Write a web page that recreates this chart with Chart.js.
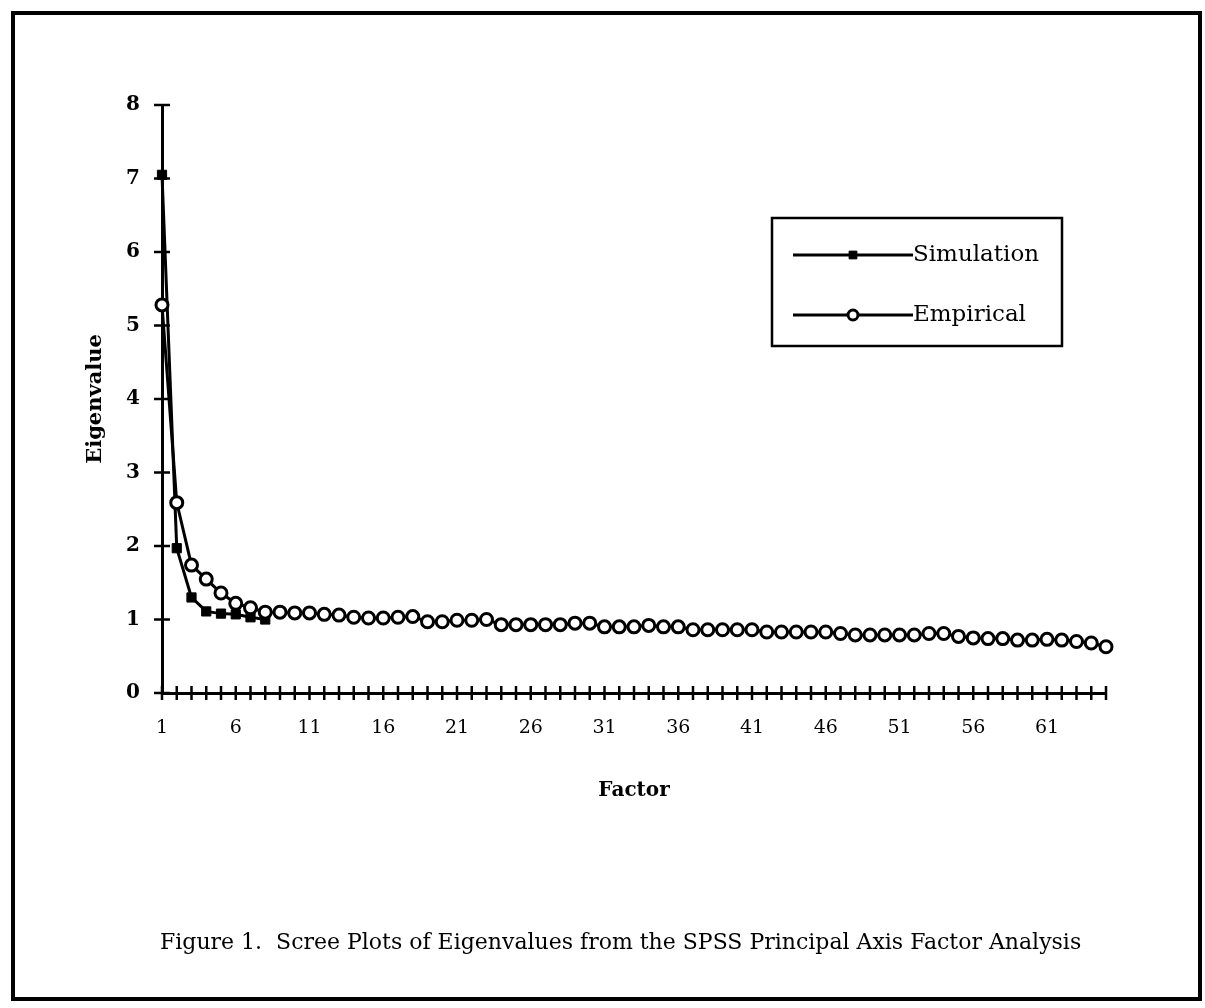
<!DOCTYPE html>
<html>
<head>
<meta charset="utf-8">
<script src="https://cdn.jsdelivr.net/npm/chart.js@4.4.0/dist/chart.umd.min.js"></script>
<style>
  body { margin: 0; background: #fff; }
  #wrap { position: relative; width: 1205px; height: 1008px; overflow: hidden; }
  #frame { position: absolute; left: 11px; top: 11px; width: 1191px; height: 990px;
           border: 4px solid #000; box-sizing: border-box; }
  #chart { position: absolute; left: 0; top: 0; }
  #caption { position: absolute; left: 160px; top: 929px; font-family: "DejaVu Serif", serif;
             font-size: 22px; color: #000; white-space: pre; }
</style>
</head>
<body>
<div id="wrap">
  <div id="frame"></div>
  <canvas id="chart" width="1205" height="1008"></canvas>
  <div id="caption">Figure 1.  Scree Plots of Eigenvalues from the SPSS Principal Axis Factor Analysis</div>
</div>
<script>
    var factors = ['1','2','3','4','5','6','7','8','9','10','11','12','13','14','15','16','17','18','19','20',
                   '21','22','23','24','25','26','27','28','29','30','31','32','33','34','35','36','37','38','39','40',
                   '41','42','43','44','45','46','47','48','49','50','51','52','53','54','55','56','57','58','59','60',
                   '61','62','63','64','65'];

    var simulation = [7.05, 1.97, 1.30, 1.11, 1.08, 1.07, 1.03, 1.00];

    var empirical = [5.28, 2.59, 1.74, 1.55, 1.36, 1.22, 1.16, 1.10, 1.10, 1.09,
                     1.09, 1.07, 1.06, 1.03, 1.02, 1.02, 1.03, 1.04, 0.97, 0.97,
                     0.99, 0.99, 1.00, 0.93, 0.93, 0.93, 0.93, 0.93, 0.95, 0.95,
                     0.90, 0.90, 0.90, 0.92, 0.90, 0.90, 0.86, 0.86, 0.86, 0.86,
                     0.86, 0.83, 0.83, 0.83, 0.83, 0.83, 0.81, 0.79, 0.79, 0.79,
                     0.79, 0.79, 0.81, 0.81, 0.77, 0.75, 0.74, 0.74, 0.72, 0.72,
                     0.73, 0.72, 0.70, 0.68, 0.63];

    var xTickEvery = 5;
    var yTicks = { min: 0, max: 8, step: 1 };

    var serif = '"DejaVu Serif", serif';

    // "+" shaped tick marks crossing both axes
    const crossTicks = {
        id: 'crossTicks',
        afterDraw(chart) {
            const ctx = chart.ctx;
            const x = chart.scales.x, y = chart.scales.y;
            ctx.save();
            ctx.strokeStyle = '#000';
            ctx.lineWidth = 2.5;
            ctx.beginPath();
            x.ticks.forEach(function (t, i) {
                const px = x.getPixelForTick(i);
                ctx.moveTo(px, y.bottom - 7);
                ctx.lineTo(px, y.bottom + 7);
            });
            y.ticks.forEach(function (t, i) {
                const py = y.getPixelForTick(i);
                ctx.moveTo(x.left - 8, py);
                ctx.lineTo(x.left + 8, py);
            });
            ctx.stroke();
            ctx.restore();
        }
    };

    // boxed legend like the original figure
    const boxLegend = {
        id: 'boxLegend',
        afterDraw(chart) {
            const ctx = chart.ctx;
            const box = { left: 772, top: 218, right: 1062, bottom: 346 };
            ctx.save();
            ctx.strokeStyle = '#000';
            ctx.lineWidth = 2.5;
            ctx.strokeRect(box.left, box.top, box.right - box.left, box.bottom - box.top);

            const rows = [37, 97];
            chart.data.datasets.forEach(function (ds, i) {
                const yy = box.top + rows[i];
                const x0 = box.left + 21, x1 = box.left + 141;
                ctx.strokeStyle = '#000';
                ctx.lineWidth = ds.borderWidth;
                ctx.beginPath();
                ctx.moveTo(x0, yy);
                ctx.lineTo(x1, yy);
                ctx.stroke();
                ctx.fillStyle = ds.pointBackgroundColor;
                ctx.lineWidth = ds.pointBorderWidth;
                Chart.helpers.drawPoint(ctx, {
                    pointStyle: ds.pointStyle,
                    radius: ds.pointRadius - 1,
                    borderWidth: ds.pointBorderWidth
                }, (x0 + x1) / 2, yy);
                ctx.fillStyle = '#000';
                ctx.font = '23px ' + serif;
                ctx.textBaseline = 'middle';
                ctx.fillText(ds.label, x1, yy);
            });
            ctx.restore();
        }
    };

    const chart = new Chart(document.getElementById('chart'), {
        type: 'line',
        data: {
            labels: factors,
            datasets: [
                {
                    label: 'Simulation',
                    data: simulation,
                    borderColor: '#000',
                    backgroundColor: '#000',
                    borderWidth: 3,
                    pointStyle: 'rect',
                    pointRadius: 6.5,
                    pointBorderWidth: 1,
                    pointBackgroundColor: '#000',
                    tension: 0,
                    clip: false,
                    order: 1
                },
                {
                    label: 'Empirical',
                    data: empirical,
                    borderColor: '#000',
                    backgroundColor: '#fff',
                    borderWidth: 3,
                    pointStyle: 'circle',
                    pointRadius: 6,
                    pointBorderWidth: 3,
                    pointBackgroundColor: '#fff',
                    tension: 0,
                    clip: false,
                    order: 0
                }
            ]
        },
        options: {
            responsive: false,
            animation: false,
            events: [],
            layout: { padding: { left: 83, right: 99, top: 105, bottom: 205 } },
            plugins: { legend: { display: false }, tooltip: { enabled: false } },
            scales: {
                x: {
                    type: 'category',
                    offset: false,
                    grid: { display: false, drawTicks: false },
                    border: { display: true, color: '#000', width: 3 },
                    ticks: {
                        autoSkip: false,
                        maxRotation: 0,
                        padding: 24,
                        color: '#000',
                        font: { family: serif, size: 19 },
                        callback: function (v, i) {
                            return i % xTickEvery === 0 ? this.getLabelForValue(v) : '';
                        }
                    },
                    title: {
                        display: true,
                        text: 'Factor',
                        color: '#000',
                        padding: 0,
                        font: { family: serif, size: 20, weight: 'bold' }
                    },
                    afterFit: function (s) { s.height = 110; }
                },
                y: {
                    min: yTicks.min,
                    max: yTicks.max,
                    grid: { display: false, drawTicks: false },
                    border: { display: true, color: '#000', width: 3 },
                    ticks: {
                        stepSize: yTicks.step,
                        padding: 22,
                        color: '#000',
                        font: { family: serif, size: 20, weight: 'bold' }
                    },
                    title: {
                        display: true,
                        text: 'Eigenvalue',
                        color: '#000',
                        padding: 0,
                        font: { family: serif, size: 21, weight: 'bold' }
                    },
                    afterFit: function (s) { s.width = 79; }
                }
            }
        },
        plugins: [crossTicks, boxLegend]
    });
</script>
</body>
</html>
